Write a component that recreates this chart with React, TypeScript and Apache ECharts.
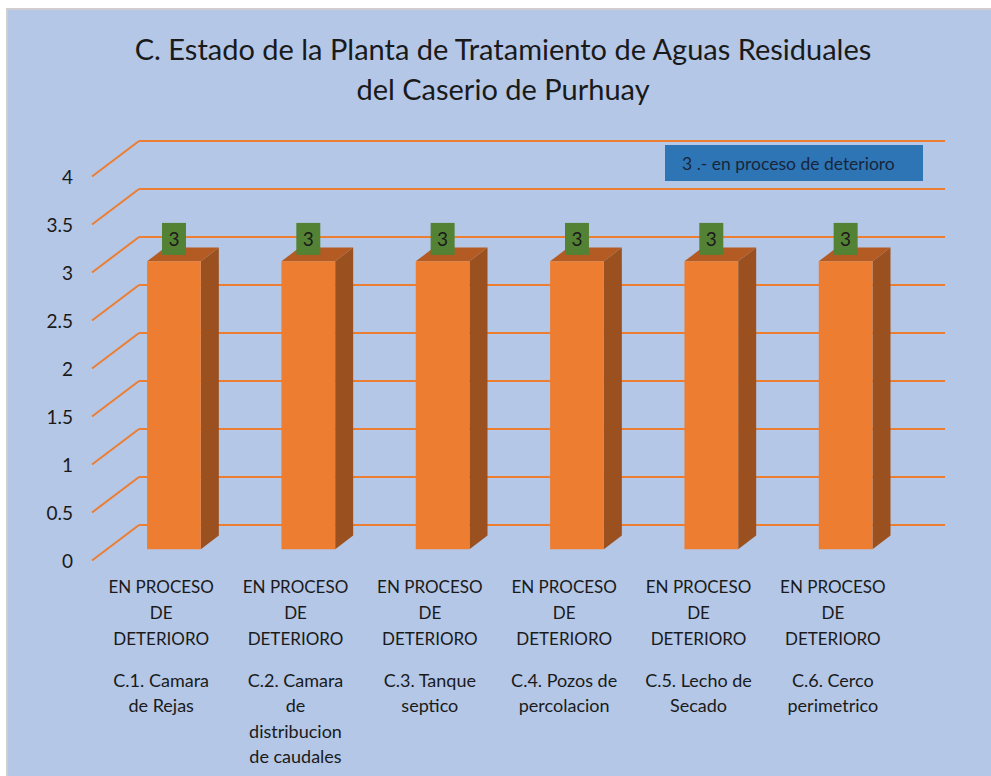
import React, { useEffect, useRef } from "react";
import * as echarts from "echarts";

const titleLines = ["C. Estado de la Planta de Tratamiento de Aguas Residuales", "del Caserio de Purhuay"];
const categories = [
  "C.1. Camara\nde Rejas",
  "C.2. Camara\nde\ndistribucion\nde caudales",
  "C.3. Tanque\nseptico",
  "C.4. Pozos de\npercolacion",
  "C.5. Lecho de\nSecado",
  "C.6. Cerco\nperimetrico",
];
const statusLabels = [
  "EN PROCESO\nDE\nDETERIORO",
  "EN PROCESO\nDE\nDETERIORO",
  "EN PROCESO\nDE\nDETERIORO",
  "EN PROCESO\nDE\nDETERIORO",
  "EN PROCESO\nDE\nDETERIORO",
  "EN PROCESO\nDE\nDETERIORO",
];
const values = [3, 3, 3, 3, 3, 3];
const yTicks = [0, 0.5, 1, 1.5, 2, 2.5, 3, 3.5, 4];
const legendText = "3 .- en proceso de deterioro";

const FONT = "Lato";
const ORANGE = "#ed7d31";
// perspective offsets (floor depth)
const DEPTH_DX = -47;
const DEPTH_DY = 35.5;

export default function App() {
  const ref = useRef<HTMLDivElement>(null);
  useEffect(() => {
    if (!ref.current) return;
    const chart = echarts.init(ref.current, undefined, { renderer: "svg" });
    const option: any = {
      animation: false,
      backgroundColor: "#ffffff",
      textStyle: { fontFamily: FONT },
      grid: [
        { left: 139, top: 141, width: 806, height: 384 },
        { left: 94, top: 176.5, width: 806, height: 384 },
      ],
      xAxis: [
        {
          type: "category",
          gridIndex: 0,
          data: categories,
          axisLine: { show: false },
          axisTick: { show: false },
          axisLabel: { show: false },
        },
        {
          type: "category",
          gridIndex: 1,
          position: "bottom",
          data: statusLabels,
          axisLine: { show: false },
          axisTick: { show: false },
          axisLabel: {
            interval: 0,
            margin: 13,
            fontSize: 17,
            lineHeight: 26,
            color: "#1a1a1a",
            fontFamily: FONT,
          },
        },
        {
          type: "category",
          gridIndex: 1,
          position: "bottom",
          data: categories,
          axisLine: { show: false },
          axisTick: { show: false },
          axisLabel: {
            interval: 0,
            margin: 106.5,
            fontSize: 18,
            lineHeight: 25.5,
            color: "#1a1a1a",
            fontFamily: FONT,
          },
        },
      ],
      yAxis: [
        {
          type: "value",
          gridIndex: 0,
          min: 0,
          max: 4,
          interval: 0.5,
          axisLine: { show: false },
          axisTick: { show: false },
          axisLabel: { show: false },
          splitLine: { show: true, lineStyle: { color: ORANGE, width: 2 } },
        },
        {
          type: "value",
          gridIndex: 1,
          min: 0,
          max: 4,
          interval: 0.5,
          axisLine: { show: false },
          axisTick: { show: false },
          splitLine: { show: false },
          axisLabel: { margin: 21, fontSize: 19, color: "#1a1a1a", fontFamily: FONT },
        },
      ],
      graphic: [
        {
          type: "rect",
          z: -100,
          shape: { x: 7, y: 9, width: 1000, height: 800 },
          style: { fill: "#b4c7e7", stroke: "#d0cece", lineWidth: 2 },
        },
        {
          type: "text",
          z: 10,
          style: {
            text: titleLines.join("\n"),
            x: 503,
            y: 28,
            textAlign: "center",
            textVerticalAlign: "top",
            fontSize: 29,
            lineHeight: 40,
            fontFamily: FONT,
            fill: "#1a1a1a",
          },
        },
        {
          type: "rect",
          z: 10,
          shape: { x: 665, y: 145, width: 258, height: 36 },
          style: { fill: "#2e75b6" },
        },
        {
          type: "text",
          z: 11,
          style: {
            text: legendText,
            x: 682,
            y: 163,
            textVerticalAlign: "middle",
            fontSize: 17.5,
            fontFamily: FONT,
            fill: "#18263a",
          },
        },
      ],
      series: [
        {
          type: "custom",
          xAxisIndex: 0,
          yAxisIndex: 0,
          data: yTicks.map((v) => [0, v]),
          silent: true,
          z: 1,
          renderItem: (params: any, api: any) => {
            const p = api.coord([0, api.value(1)]);
            const x0 = params.coordSys.x;
            return {
              type: "line",
              shape: { x1: x0, y1: p[1], x2: x0 + DEPTH_DX, y2: p[1] + DEPTH_DY },
              style: { stroke: ORANGE, lineWidth: 2 },
            };
          },
        },
        {
          type: "custom",
          xAxisIndex: 0,
          yAxisIndex: 0,
          data: values.map((v, i) => [i, v]),
          z: 5,
          renderItem: (params: any, api: any) => {
            const idx = api.value(0);
            const val = api.value(1);
            const base = api.coord([idx, 0]);
            const top = api.coord([idx, val]);
            const band = api.size([1, 0])[0];
            const w = band * 0.4;
            const f = 0.685;
            const cx = base[0] + DEPTH_DX * f;
            const fl = cx - w / 2;
            const fr = cx + w / 2;
            const ft = top[1] + DEPTH_DY * f;
            const fb = base[1] + DEPTH_DY * f;
            const ddx = 18;
            const ddy = -13.7;
            return {
              type: "group",
              children: [
                {
                  type: "polygon",
                  shape: { points: [[fr, ft], [fr + ddx, ft + ddy], [fr + ddx, fb + ddy], [fr, fb]] },
                  style: { fill: "#9a511f" },
                },
                {
                  type: "polygon",
                  shape: { points: [[fl, ft], [fl + ddx, ft + ddy], [fr + ddx, ft + ddy], [fr, ft]] },
                  style: { fill: "#b35b22" },
                },
                {
                  type: "rect",
                  shape: { x: fl, y: ft, width: w, height: fb - ft },
                  style: { fill: ORANGE },
                },
                {
                  type: "rect",
                  shape: { x: cx - 12, y: ft - 38.4, width: 24, height: 32 },
                  style: { fill: "#548235" },
                },
                {
                  type: "text",
                  style: {
                    text: String(val),
                    x: cx,
                    y: ft - 22.4,
                    textAlign: "center",
                    textVerticalAlign: "middle",
                    fontSize: 19,
                    fontFamily: FONT,
                    fill: "#1a1a1a",
                  },
                },
              ],
            };
          },
        },
      ],
    };
    chart.setOption(option);
    return () => chart.dispose();
  }, []);
  return <div ref={ref} style={{ position: "fixed", left: 0, top: 0, width: 991, height: 776 }} />;
}
